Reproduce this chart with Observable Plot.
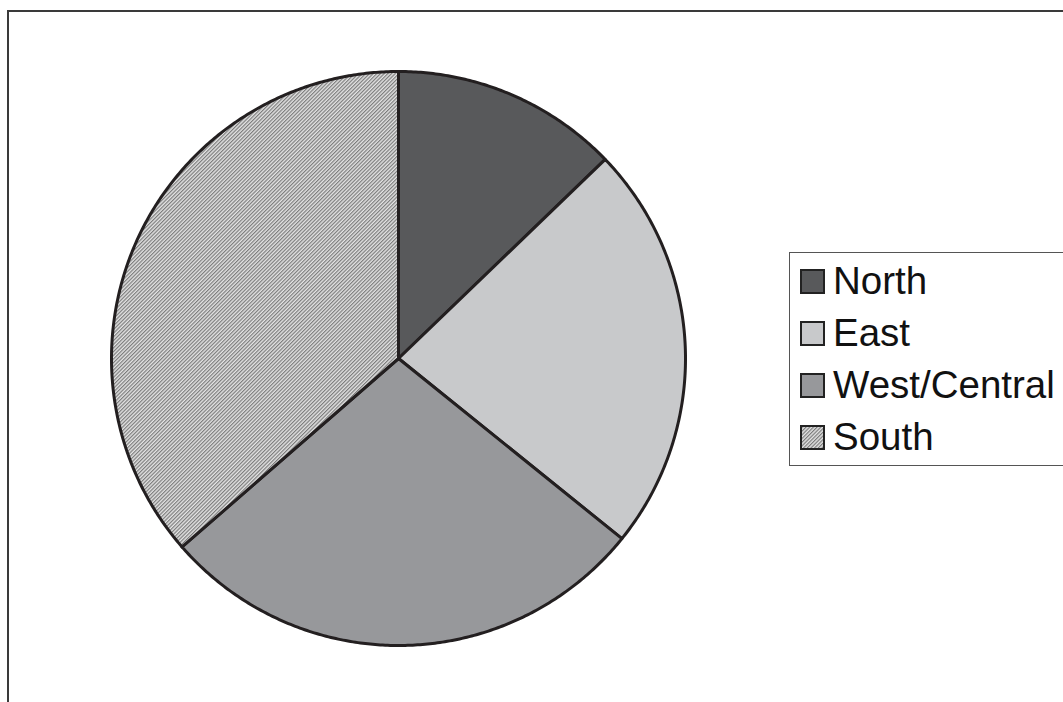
<!DOCTYPE html>
<html>
<head>
<meta charset="utf-8">
<script src="https://cdn.jsdelivr.net/npm/d3@7"></script>
<script src="https://cdn.jsdelivr.net/npm/@observablehq/plot@0.6"></script>
<style>
  html, body { margin: 0; padding: 0; background: #fff; }
  #wrap { position: relative; width: 1063px; height: 702px; overflow: hidden; background: #fff; }
  #frame { position: absolute; left: 7px; top: 10px; width: 2000px; height: 2000px; border: 2px solid #3a3a3a; box-sizing: border-box; }
  #chart { position: absolute; left: 0; top: 0; }
  #legend { position: absolute; left: 789px; top: 252px; width: 400px; height: 214px; border: 1px solid #555; box-sizing: border-box; padding: 2px 0 0 10px; background: #fff;
    font-family: "Liberation Sans", Arial, Helvetica, sans-serif; font-size: 38.5px; color: #111; }
  .row { height: 52px; line-height: 52px; white-space: nowrap; }
  .sw { display: inline-block; width: 25px; height: 25px; margin-right: 8px; vertical-align: baseline; }
</style>
</head>
<body>
<div id="wrap">
  <div id="frame"></div>
  <div id="chart"></div>
  <div id="legend"></div>
</div>
<script>
const regions = ["North", "East", "West/Central", "South"];
const shares = [12.8, 23.0, 27.8, 36.4];
const fills = ["#58595b", "#c8c9cb", "#97989b", "url(#southPattern)"];

const patternDef = `
  <pattern id="southPattern" patternUnits="userSpaceOnUse" width="2.6" height="2.6" patternTransform="rotate(-45)">
    <rect width="2.6" height="2.6" fill="#e4e4e4"/>
    <rect width="2.6" height="1.2" fill="#7c7c7c"/>
  </pattern>`;

// build slice outlines (unit circle, starting at top, clockwise)
const total = d3.sum(shares);
const pts = [];
let acc = 0;
regions.forEach((name, i) => {
  const a0 = acc / total * 2 * Math.PI;
  acc += shares[i];
  const a1 = acc / total * 2 * Math.PI;
  pts.push({name, x: 0, y: 0});
  const n = Math.max(2, Math.ceil((a1 - a0) / (Math.PI / 360)));
  for (let k = 0; k <= n; k++) {
    const a = a0 + (a1 - a0) * k / n;
    pts.push({name, x: Math.sin(a), y: Math.cos(a)});
  }
});

const W = 1063, H = 702, cx = 398, cy = 358, R = 287;
const chart = Plot.plot({
  width: W, height: H,
  margin: 0,
  x: {domain: [-cx / R, (W - cx) / R], axis: null},
  y: {domain: [-(H - cy) / R, cy / R], axis: null},
  color: {domain: regions, range: fills},
  style: {background: "transparent"},
  marks: [
    Plot.line(pts, {x: "x", y: "y", z: "name", fill: "name", stroke: "#231f20", strokeWidth: 3, strokeLinejoin: "round", curve: "linear-closed"})
  ]
});

const ns = "http://www.w3.org/2000/svg";
const defs = document.createElementNS(ns, "defs");
defs.innerHTML = patternDef;
chart.insertBefore(defs, chart.firstChild);
document.getElementById("chart").appendChild(chart);

// legend
const legend = document.getElementById("legend");
regions.forEach((name, i) => {
  const row = document.createElement("div");
  row.className = "row";
  const sw = document.createElementNS(ns, "svg");
  sw.setAttribute("class", "sw");
  sw.setAttribute("width", 25);
  sw.setAttribute("height", 25);
  sw.innerHTML = `<rect x="1" y="1" width="23" height="23" fill="${fills[i]}" stroke="#222" stroke-width="2"/>`;
  row.appendChild(sw);
  row.appendChild(document.createTextNode(name));
  legend.appendChild(row);
});
</script>
</body>
</html>
